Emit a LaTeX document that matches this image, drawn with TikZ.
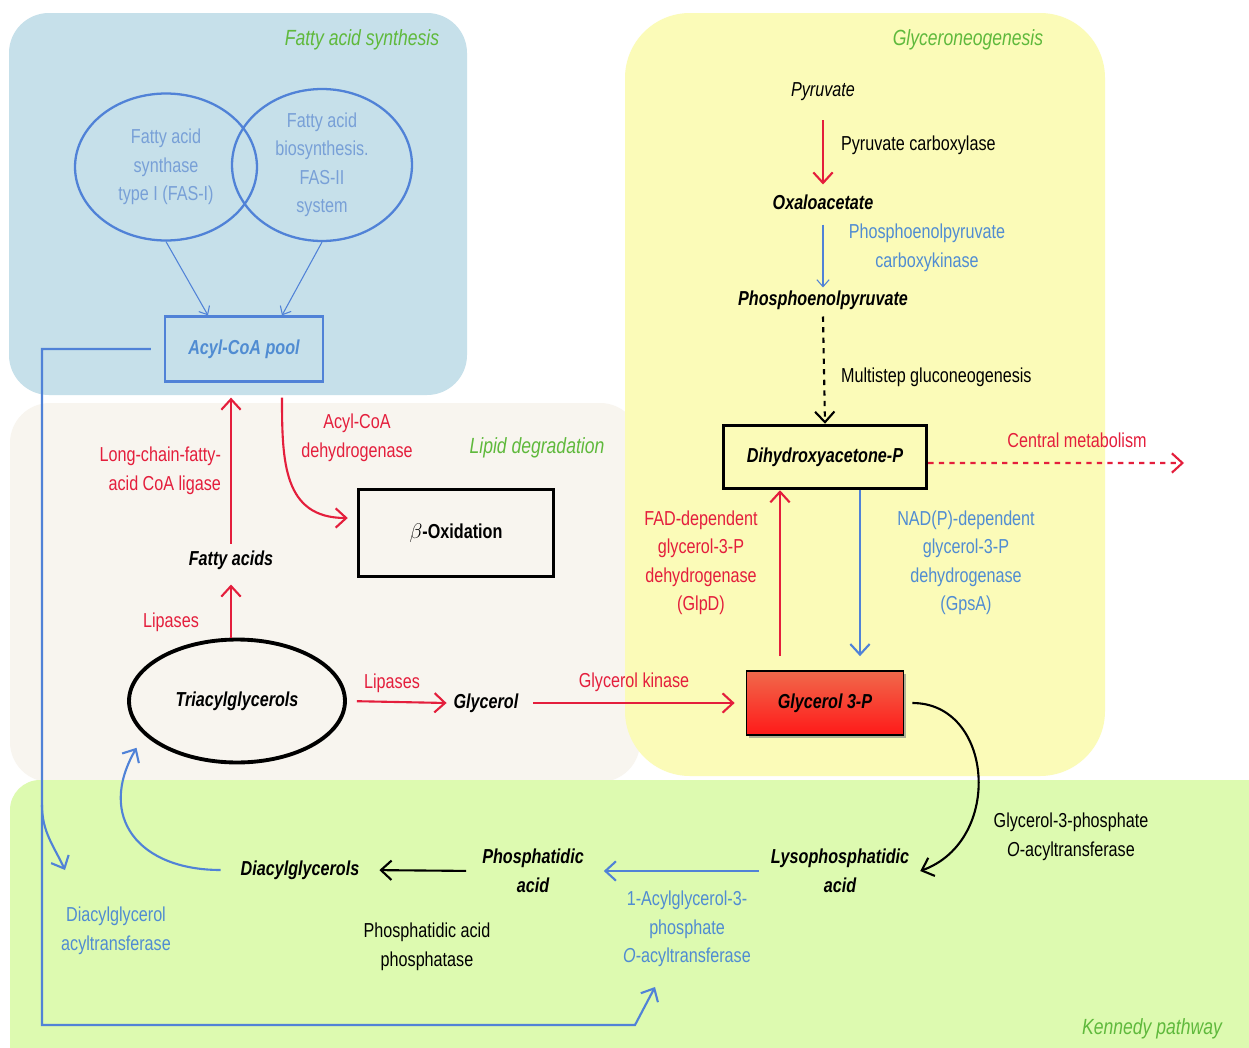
\documentclass[tikz,border=0pt]{standalone}
\usepackage{fontspec}
\setmainfont{Liberation Sans}[FakeStretch=0.8]
\usetikzlibrary{arrows.meta,shapes.geometric,shadows}
\definecolor{regblue}{RGB}{198,224,234}
\definecolor{regbeige}{RGB}{248,245,239}
\definecolor{regyellow}{RGB}{251,251,184}
\definecolor{reggreen}{RGB}{221,250,176}
\definecolor{ttlgreen}{RGB}{95,185,60}
\definecolor{lnred}{RGB}{228,30,60}
\definecolor{lnblue}{RGB}{80,130,215}
\definecolor{txblue}{RGB}{80,140,210}
\definecolor{elltext}{RGB}{120,160,215}
\definecolor{gtop}{RGB}{240,105,75}
\definecolor{gbot}{RGB}{255,25,25}
\tikzset{
  met/.style={font=\bfseries\itshape},
  regtitle/.style={font=\fontsize{12.5}{15}\selectfont\itshape,text=ttlgreen},
  lbl/.style={align=center},
  tip/.style={-{Straight Barb[length=6pt,width=11pt,line width=1.2pt]}},
  redarr/.style={tip,draw=lnred,line width=1.2pt},
  bluearr/.style={tip,draw=lnblue,line width=1.2pt},
  blackarr/.style={tip,draw=black,line width=1.2pt},
  thinblue/.style={-{Straight Barb[length=4pt,width=7pt]},draw=lnblue,line width=0.6pt},
  bigbox/.style={draw=black,line width=2pt,rectangle},
  fasell/.style={ellipse,draw=lnblue,line width=1.3pt,inner sep=0pt,text=elltext,align=center},
}
\begin{document}
\fontsize{11.5}{16.2}\selectfont
\begin{tikzpicture}[x=0.02cm,y=-0.02cm]
\clip (0,0) rectangle (1249,1048);
\fill[white] (0,0) rectangle (1249,1048);
\fill[regbeige,rounded corners=0.8cm] (10,403) rectangle (640,782);
\fill[regyellow,rounded corners=1.3cm] (625,13) rectangle (1105,776);
\fill[regblue,rounded corners=0.8cm] (9,13) rectangle (467,395);
\fill[reggreen,rounded corners=0.6cm] (10,780) rectangle (1300,1100);

\node[regtitle] (tfas) at (362,40) {Fatty acid synthesis};
\node[regtitle] (tgng) at (968,40) {Glyceroneogenesis};
\node[regtitle] (tlip) at (537,448) {Lipid degradation};
\node[regtitle] (tken) at (1152,1029) {Kennedy pathway};

\node[fasell,minimum width=3.64cm,minimum height=2.94cm] (fas1) at (166,167) {Fatty acid\\synthase\\type I (FAS-I)};
\node[fasell,minimum width=3.6cm,minimum height=3.04cm] (fas2) at (322,165) {Fatty acid\\biosynthesis.\\FAS-II\\system};
\node[draw=lnblue,line width=1.3pt,minimum width=3.16cm,minimum height=1.3cm,met,text=txblue] (acyl) at (244,349) {Acyl-CoA pool};

\node[met] (fa) at (231,560) {Fatty acids};
\node[lbl,align=right,text=lnred,anchor=east] (lcfa) at (228,471) {Long-chain-fatty-\\acid CoA ligase};
\node[lbl,text=lnred] (acad) at (357,438) {Acyl-CoA\\dehydrogenase};
\node[bigbox,minimum width=3.9cm,minimum height=1.74cm] (beta) at (456,533) {$\beta$\textbf{-Oxidation}};
\node[text=lnred] (lip1) at (171,622) {Lipases};
\node[ellipse,draw=black,line width=2.2pt,minimum width=4.32cm,minimum height=2.46cm,met] (tag) at (237,701) {Triacylglycerols};
\node[text=lnred] (lip2) at (392,683) {Lipases};
\node[met] (gly) at (486,703) {Glycerol};
\node[text=lnred] (gk) at (634,682) {Glycerol kinase};
\node[draw=black,line width=1pt,top color=gtop,bottom color=gbot,minimum width=3.14cm,minimum height=1.28cm,drop shadow={shadow xshift=1.5pt,shadow yshift=-1.5pt,opacity=0.6},met] (g3p) at (825,703) {Glycerol 3-P};

\node[font=\itshape] (pyr) at (823,92) {Pyruvate};
\node[anchor=west] (pc) at (834,145) {Pyruvate carboxylase};
\node[met] (oaa) at (823,202) {Oxaloacetate};
\node[lbl,text=txblue] (pepck) at (927,248) {Phosphoenolpyruvate\\carboxykinase};
\node[met] (pep) at (823,300) {Phosphoenolpyruvate};
\node[anchor=west] (mg) at (834,377) {Multistep gluconeogenesis};
\node[bigbox,minimum width=4.06cm,minimum height=1.26cm,met] (dhap) at (825,457) {Dihydroxyacetone-P};
\node[text=lnred] (cm) at (1077,440) {Central metabolism};
\coordinate (cmend) at (1184,463);
\node[lbl,text=lnred] (glpd) at (701,563) {FAD-dependent\\glycerol-3-P\\dehydrogenase\\(GlpD)};
\node[lbl,text=txblue] (gpsa) at (966,563) {NAD(P)-dependent\\glycerol-3-P\\dehydrogenase\\(GpsA)};

\node[met,lbl] (lpa) at (840,871) {Lysophosphatidic\\acid};
\node[lbl] (gpat) at (1071,837) {Glycerol-3-phosphate\\\textit{O}-acyltransferase};
\node[lbl,text=txblue] (agpat) at (687,929) {1-Acylglycerol-3-\\phosphate\\\textit{O}-acyltransferase};
\node[met,lbl] (pa) at (533,871) {Phosphatidic\\acid};
\node[lbl] (pap) at (427,947) {Phosphatidic acid\\phosphatase};
\node[met] (dag) at (300,870) {Diacylglycerols};
\node[lbl,text=txblue] (dgat) at (116,931) {Diacylglycerol\\acyltransferase};
\coordinate (kcorner) at (42,1025);
\coordinate (kbend) at (635,1025);
\coordinate (agtip) at (655,987);
\coordinate (kbranch) at (42,805);
\coordinate (dgtip) at (65,870);

\draw[thinblue] (fas1.south) -- ([xshift=-0.72cm]acyl.north);
\draw[thinblue] (fas2.south) -- ([xshift=0.76cm]acyl.north);
\draw[redarr,shorten >=0.3cm] (fa.north) -- (fa.north |- acyl.south);
\draw[redarr] ([xshift=0.76cm,yshift=-0.3cm]acyl.south) to[out=-90,in=180,looseness=1.2] ([xshift=-0.18cm,yshift=0.3cm]beta.west);
\draw[redarr,shorten >=0.16cm] (tag.north -| fa.south) -- (fa.south);
\draw[redarr,shorten <=0.2cm] (tag.east) -- (gly.west);
\draw[redarr,shorten <=0.16cm,shorten >=0.22cm] (gly.east) -- (g3p.west);
\draw[redarr,shorten <=0.28cm] ([xshift=-0.9cm]g3p.north) -- ([xshift=-0.9cm]g3p.north |- dhap.south);
\draw[bluearr,shorten >=0.28cm] ([xshift=0.7cm]g3p.north |- dhap.south) -- ([xshift=0.7cm]g3p.north);
\draw[redarr,dashed] ([yshift=-0.12cm]dhap.east) -- (cmend);
\draw[redarr,shorten <=0.24cm,shorten >=0.06cm] (pyr.south) -- (oaa.north);
\draw[thinblue,shorten <=0.16cm,shorten >=-0.08cm] (oaa.south) -- (pep.north);
\draw[blackarr,dashed] (pep.south) -- (dhap.north);

\draw[blackarr,shorten <=0.16cm] (g3p.east) to[out=0,in=20,looseness=1.35] ([xshift=0.08cm]lpa.east);
\draw[bluearr,shorten <=0.1cm,shorten >=0.26cm] (lpa.west) -- (pa.east);
\draw[blackarr,shorten <=0.18cm,shorten >=0.26cm] (pa.west) -- (dag.east);
\draw[bluearr,shorten <=0.26cm,shorten >=0.3cm] (dag.west) to[out=180,in=240,looseness=1.5] (tag.200);
\draw[bluearr] ([xshift=-0.26cm]acyl.west) -| (kcorner) -- (kbend) -- (agtip);
\draw[bluearr] (kbranch) to[out=-90,in=115] (dgtip);
\end{tikzpicture}
\end{document}
